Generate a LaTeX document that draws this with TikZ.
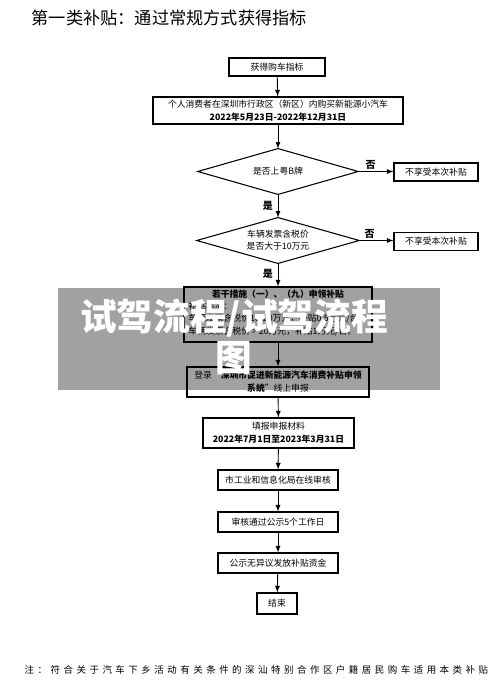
\documentclass[tikz,border=0pt]{standalone}
\usepackage{fontspec}
\setmainfont{Noto Sans CJK SC}
\newfontfamily\notefont[LetterSpace=37]{Noto Sans CJK SC}

\tikzset{
  box/.style={draw, line width=0.8pt, fill=white, align=center, inner sep=0pt,
    font=\fontsize{6.6}{9.6}\selectfont},
  choice/.style={align=center, inner sep=0pt, minimum width=120pt, minimum height=34pt,
    font=\fontsize{6.6}{9}\selectfont},
  flow/.style={-latex, line width=0.7pt},
  yesno/.style={font=\fontsize{7.5}{9}\selectfont\bfseries, inner sep=1.5pt}
}

\begin{document}
\begin{tikzpicture}[x=0.75pt, y=-0.75pt]
\useasboundingbox (0,0) rectangle (500,680);

\node[anchor=west, font=\fontsize{12.9}{15}\selectfont] (title) at (27,18) {第一类补贴：通过常规方式获得指标};

% main column
\node[box, minimum width=72pt, minimum height=13.5pt] (get) at (277,67) {获得购车指标};
\node[box, minimum width=187.5pt, minimum height=20.25pt] (buy) at (278,110.5)
  {个人消费者在深圳市行政区（新区）内购买新能源小汽车\\ \textbf{2022年5月23日-2022年12月31日}};
\node[choice] (plate) at (278,171.5) {是否上粤B牌};
\node[choice, minimum width=121.5pt] (price) at (278,240.5) {车辆发票含税价\\是否大于10万元};
\foreach \d in {plate,price}
  \draw[line width=0.8pt] (\d.west) -- (\d.north) -- (\d.east) -- (\d.south) -- cycle;
\node[box, minimum width=141pt, minimum height=41.25pt] (rule) at (278,314.5)
  {\textbf{若干措施（一）、（九）申领补贴}\\
   \begin{tabular}{@{}l@{}}补贴标准：\\车辆发票含税价10-20万元，补贴0.5万元/台；\\车辆发票含税价 > 20万元，补贴1万元/台。\end{tabular}};
\node[box, minimum width=136.5pt, minimum height=22.5pt] (login) at (278,382)
  {登录“\textbf{深圳市促进新能源汽车消费补贴申领}\\\textbf{系统}”线上申报};
\node[box, minimum width=113.25pt, minimum height=22.5pt] (form) at (278.5,433)
  {填报申报材料\\ \textbf{2022年7月1日至2023年3月31日}};
\node[box, minimum width=90pt, minimum height=15pt] (audit) at (278,480) {市工业和信息化局在线审核};
\node[box, minimum width=90pt, minimum height=15pt] (notice) at (278,522) {审核通过公示5个工作日};
\node[box, minimum width=90pt, minimum height=15pt] (pay) at (278,563) {公示无异议发放补贴资金};
\node[box, minimum width=30pt, minimum height=15.75pt] (done) at (277,603.5) {结束};

% side boxes
\node[box, minimum width=63pt, minimum height=13.5pt] (skip1) at (436,172) {不享受本次补贴};
\node[box, minimum width=63pt, minimum height=13pt] (skip2) at (436,241.5) {不享受本次补贴};

% connectors
\draw[flow] (get) -- (buy);
\draw[flow] (buy) -- (plate);
\draw[flow] (plate) -- node[yesno, left, xshift=-2pt] {是} (price);
\draw[flow] (price) -- node[yesno, left, xshift=-2pt, pos=0.45] {是} (rule);
\draw[flow] (rule) -- (login);
\draw[flow] (login) -- (form);
\draw[flow] (form) -- (audit);
\draw[flow] (audit) -- (notice);
\draw[flow] (notice) -- (pay);
\draw[flow] (pay) -- (done);
\draw[flow] (plate.east) -- node[yesno, above, pos=0.35] {否} (skip1.west |- plate.east);
\draw[flow] (price.east) -- node[yesno, above, pos=0.3] {否} (skip2.west |- price.east);

\node[anchor=west, font=\notefont\fontsize{7.1}{9}\selectfont] (note) at (20,670)
  {注：符合关于汽车下乡活动有关条件的深汕特别合作区户籍居民购车适用本类补贴};

% watermark
\fill[black, opacity=0.37] (58,288) rectangle (440,390);
\node[white, align=center, font=\fontsize{27.5}{30.75}\selectfont\bfseries] (mark) at (234,337.5)
  {试驾流程/试驾流程\\图};
\end{tikzpicture}
\end{document}
